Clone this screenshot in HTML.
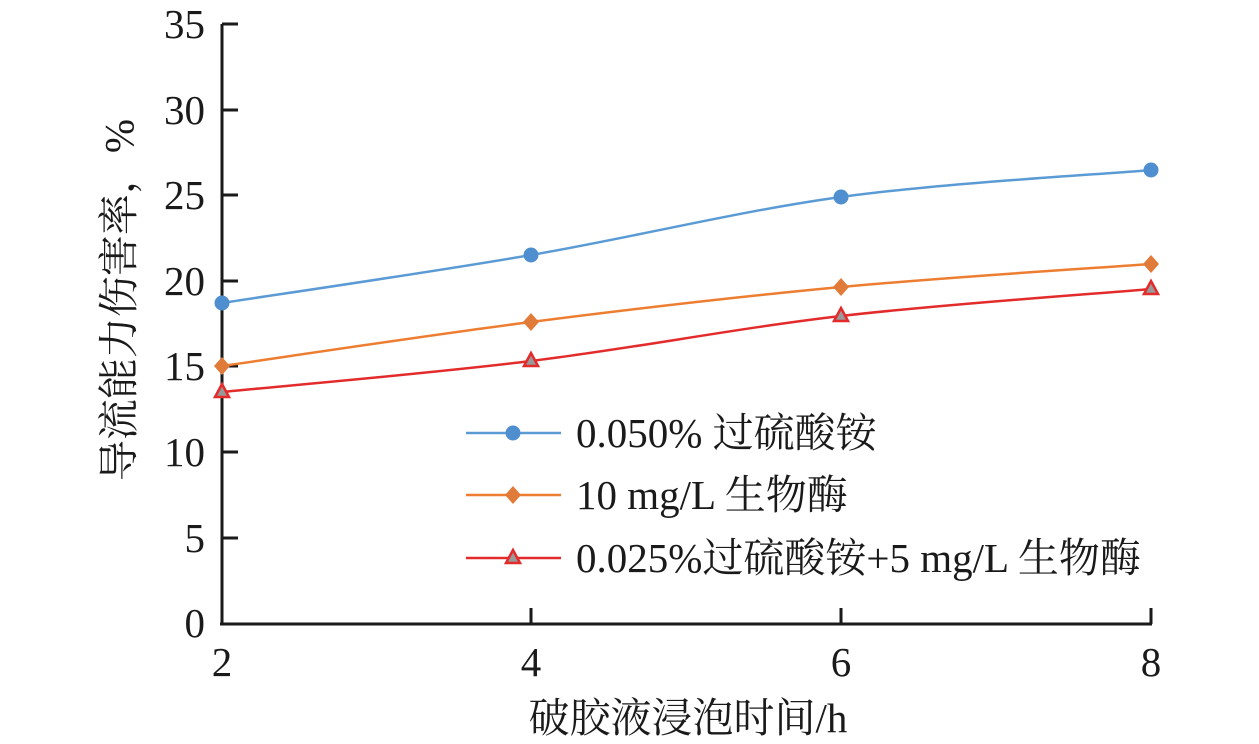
<!DOCTYPE html>
<html><head><meta charset="utf-8"><style>
html,body{margin:0;padding:0;background:#fff;}
svg{display:block;}
text{font-family:"Liberation Serif","Noto Serif CJK SC",serif;fill:#1a1a1a;}
</style></head><body>
<svg width="1259" height="744" viewBox="0 0 1259 744">
<g stroke="#1a1a1a" stroke-width="3" fill="none">
<line x1="222" y1="24" x2="222" y2="625"/>
<line x1="220" y1="624" x2="1152" y2="624"/>
<line x1="222" y1="24" x2="238" y2="24"/>
<line x1="222" y1="110" x2="238" y2="110"/>
<line x1="222" y1="195" x2="238" y2="195"/>
<line x1="222" y1="281" x2="238" y2="281"/>
<line x1="222" y1="366" x2="238" y2="366"/>
<line x1="222" y1="452" x2="238" y2="452"/>
<line x1="222" y1="538" x2="238" y2="538"/>
<line x1="531" y1="624" x2="531" y2="608"/>
<line x1="841" y1="624" x2="841" y2="608"/>
<line x1="1151" y1="624" x2="1151" y2="608"/>
</g>
<g font-size="41" text-anchor="end">
<text x="205" y="38">35</text>
<text x="205" y="124">30</text>
<text x="205" y="209">25</text>
<text x="205" y="295">20</text>
<text x="205" y="380">15</text>
<text x="205" y="466">10</text>
<text x="205" y="552">5</text>
<text x="205" y="637">0</text>
</g>
<g font-size="41" text-anchor="middle">
<text x="222" y="676">2</text>
<text x="531" y="676">4</text>
<text x="841" y="676">6</text>
<text x="1151" y="676">8</text>
<text x="688" y="732">破胶液浸泡时间/h</text>
<text transform="translate(133,300) rotate(-90)">导流能力伤害率，%</text>
</g>
<g fill="none" stroke-width="2.5">
<path stroke="#5b9bd5" d="M222,303 C273.5,295 427.8,272.7 531,255 C634.2,237.3 737.7,211.2 841,197 C944.3,182.8 1099.3,174.5 1151,170"/>
<path stroke="#ed7d31" d="M222,366 C273.5,358.7 427.8,335.2 531,322 C634.2,308.8 737.7,296.7 841,287 C944.3,277.3 1099.3,267.8 1151,264"/>
<path stroke="#e32b2b" d="M222,392 C273.5,386.8 427.8,373.7 531,361 C634.2,348.3 737.7,328 841,316 C944.3,304 1099.3,293.5 1151,289"/>
<line x1="466" y1="433" x2="561" y2="433" stroke="#5b9bd5"/>
<line x1="466" y1="495" x2="561" y2="495" stroke="#ed7d31"/>
<line x1="466" y1="558" x2="561" y2="558" stroke="#e32b2b"/>
</g>
<g fill="#4f8fd0">
<circle cx="222" cy="303" r="7.5"/><circle cx="531" cy="255" r="7.5"/><circle cx="841" cy="197" r="7.5"/><circle cx="1151" cy="170" r="7.5"/><circle cx="513" cy="433" r="7.5"/>
</g>
<g fill="#e07b3a">
<path d="M222,357 l8,9 -8,9 -8,-9z"/><path d="M531,313 l8,9 -8,9 -8,-9z"/><path d="M841,278 l8,9 -8,9 -8,-9z"/><path d="M1151,255 l8,9 -8,9 -8,-9z"/><path d="M513,486 l8,9 -8,9 -8,-9z"/>
</g>
<g fill="#999" stroke="#e32b2b" stroke-width="2.5">
<path d="M222,384 l7,13 -14,0z"/><path d="M531,353 l7,13 -14,0z"/><path d="M841,308 l7,13 -14,0z"/><path d="M1151,281 l7,13 -14,0z"/><path d="M513,550 l7,13 -14,0z"/>
</g>
<g font-size="41">
<text x="576" y="447">0.050% 过硫酸铵</text>
<text x="576" y="509">10 mg/L 生物酶</text>
<text x="576" y="572">0.025%过硫酸铵+5 mg/L 生物酶</text>
</g>
</svg>
</body></html>
